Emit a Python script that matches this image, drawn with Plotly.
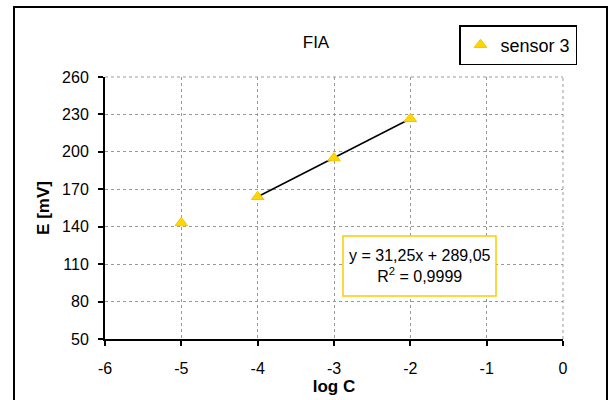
import plotly.graph_objects as go

log_c = [-5, -4, -3, -2]
e_mv = [143, 164, 195, 226.5]
fit_x = [-4, -2]
slope = 31.25
intercept = 289.05
r2_text = "0,9999"
x_ticks = [-6, -5, -4, -3, -2, -1, 0]
y_ticks = [50, 80, 110, 140, 170, 200, 230, 260]

fit_y = [slope * x + intercept for x in fit_x]

FONT = "Liberation Sans, Arial, sans-serif"

fig = go.Figure()
fig.add_trace(go.Scatter(
    x=fit_x, y=fit_y, mode="lines",
    line=dict(color="black", width=1.5), showlegend=False, hoverinfo="skip"))
fig.add_trace(go.Scatter(
    x=log_c, y=e_mv, mode="markers", name="sensor 3",
    marker=dict(symbol="triangle-up", size=11, color="#FFD700",
                line=dict(color="#F5C400", width=1))))

W, H = 610, 400
L, R, T, B = 105, 47, 77, 61
pw = W - L - R
ph = H - T - B

def px(x):
    return (x - L) / pw

def py(y):
    return (H - B - y) / ph

fig.update_layout(
    width=W, height=H,
    margin=dict(l=L, r=R, t=T, b=B),
    paper_bgcolor="white", plot_bgcolor="white",
    font=dict(family=FONT, size=16, color="black"),
    title=dict(text="FIA", x=316 / W, xanchor="center",
               y=1 - 42 / H, yanchor="middle",
               font=dict(family=FONT, size=17)),
    legend=dict(x=px(577), y=py(25), xanchor="right", yanchor="top",
                bordercolor="black", borderwidth=1.5, bgcolor="white",
                font=dict(family=FONT, size=18),
                itemwidth=30, tracegroupgap=0),
    xaxis=dict(range=[-6, 0], tickvals=x_ticks, ticktext=[str(v) for v in x_ticks],
               showgrid=True, gridcolor="#999999", griddash="dot", gridwidth=1,
               zeroline=False, showline=True, linecolor="black", linewidth=2,
               ticks="outside", ticklen=5, tickcolor="black", tickwidth=1.5,
               tickfont=dict(size=16), ticklabelstandoff=9, automargin=False,
               title=dict(text="<b>log C</b>", font=dict(size=17), standoff=2)),
    yaxis=dict(range=[50, 260], tickvals=y_ticks, ticktext=[str(v) for v in y_ticks],
               showgrid=True, gridcolor="#999999", griddash="dot", gridwidth=1,
               zeroline=False, showline=True, linecolor="black", linewidth=2,
               ticks="outside", ticklen=5, tickcolor="black", tickwidth=1.5,
               tickfont=dict(size=16), ticklabelstandoff=6, automargin=False,
               title=dict(text="<b>E [mV]</b>", font=dict(size=17), standoff=8)),
)

# plot-area top/right border as gray dotted lines
fig.add_shape(type="line", xref="paper", yref="paper", x0=0, x1=1, y0=1, y1=1,
              line=dict(color="#999999", width=1, dash="dot"))
fig.add_shape(type="line", xref="paper", yref="paper", x0=1, x1=1, y0=0, y1=1,
              line=dict(color="#999999", width=1, dash="dot"))

# outer chart frame
fig.add_shape(type="rect", xref="paper", yref="paper",
              x0=px(14), x1=px(607), y0=py(403), y1=py(7),
              line=dict(color="black", width=2), layer="below")

# equation box
fig.add_shape(type="rect", xref="paper", yref="paper",
              x0=px(343), x1=px(496), y0=py(296), y1=py(236),
              line=dict(color="#FFCC00", width=1.5), fillcolor="white")
eq_text = (f"y = {slope:.2f}x + {intercept:.2f}".replace(".", ",")
           + f"<br>R<sup>2</sup> = {r2_text}")
fig.add_annotation(xref="paper", yref="paper", x=px(419.5), y=py(266),
                   text=eq_text, showarrow=False, align="center",
                   xanchor="center", yanchor="middle",
                   font=dict(family=FONT, size=16, color="black"))

fig.write_html("out.html", config={"displayModeBar": False},
               post_script="document.body.style.margin='0';document.body.style.overflow='hidden';")
